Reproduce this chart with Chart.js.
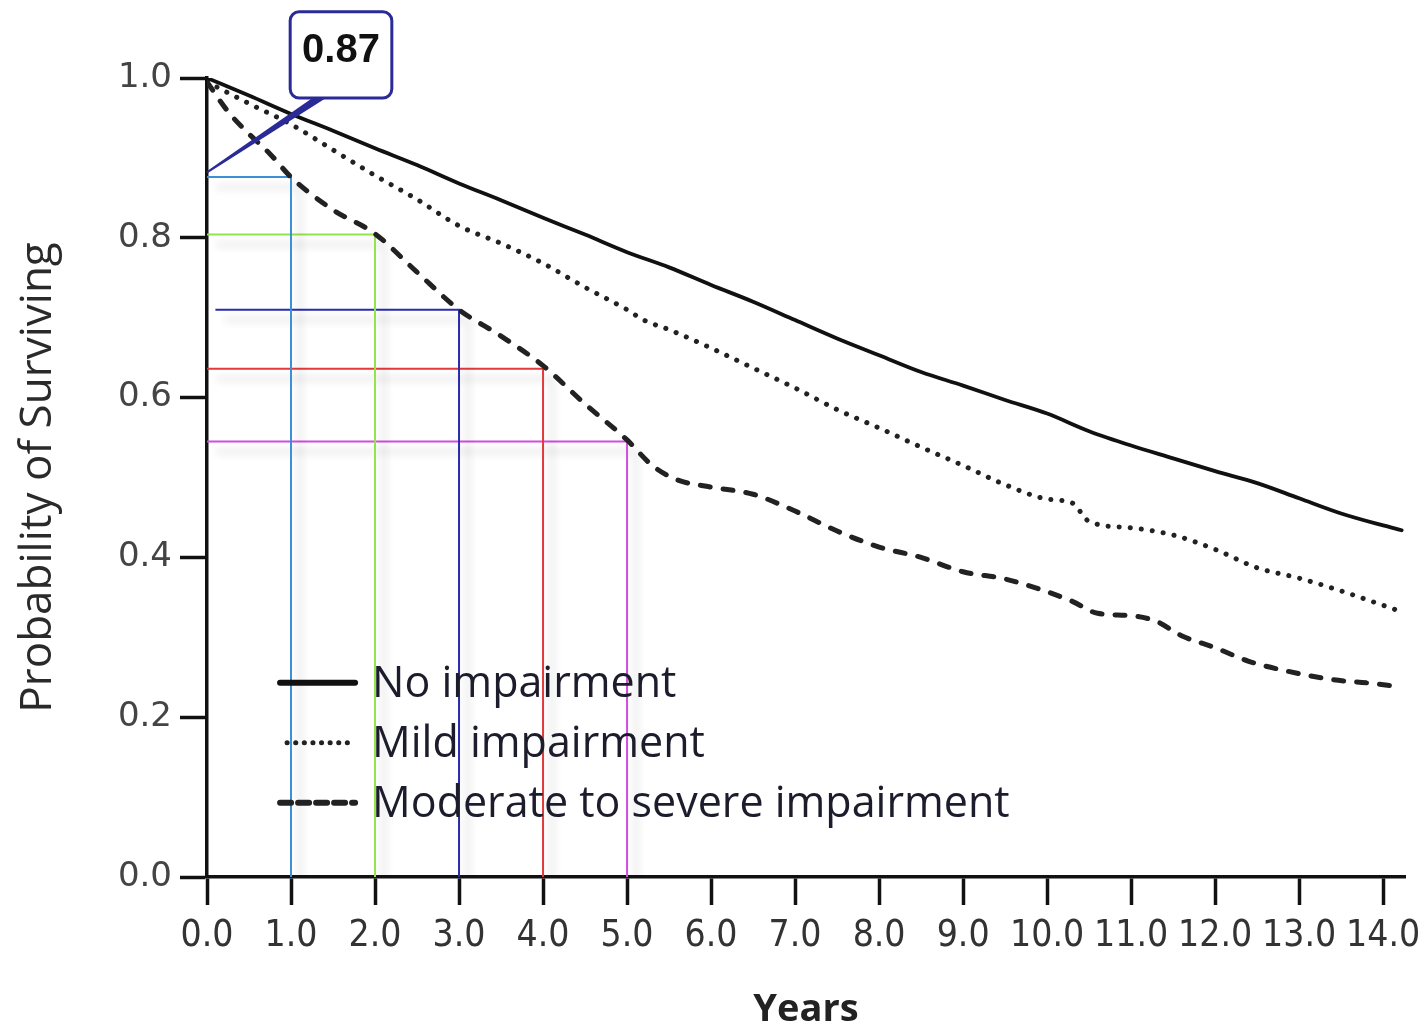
<!DOCTYPE html>
<html lang="en">
<head>
  <meta charset="UTF-8">
  <title>Probability of Surviving</title>
  <script src="https://cdn.jsdelivr.net/npm/chart.js"></script>
  <style>
    html, body { margin: 0; padding: 0; background: #fff; }
    #wrap { width: 1424px; height: 1033px; }
  </style>
</head>
<body>
  <div id="wrap"><canvas id="graph" width="1424" height="1033"></canvas></div>

  <script>
    // survival curves
    const noImpYears = [0, 0.5, 1, 1.5, 2, 2.5, 3, 3.5, 4, 4.5, 5, 5.5, 6, 6.5, 7, 7.5, 8, 8.5, 9, 9.5, 10, 10.5, 11, 11.5, 12, 12.5, 13, 13.5, 14, 14.22];
    const noImpSurv = [1.0, 0.978, 0.955, 0.934, 0.912, 0.891, 0.868, 0.847, 0.825, 0.804, 0.782, 0.763, 0.741, 0.72, 0.697, 0.674, 0.653, 0.632, 0.615, 0.597, 0.58, 0.558, 0.54, 0.524, 0.508, 0.493, 0.474, 0.455, 0.44, 0.434];

    const mildYears = [0, 0.5, 1, 1.5, 2, 2.5, 3, 3.5, 4, 4.5, 5, 5.2, 5.5, 6, 6.5, 7, 7.5, 8, 8.5, 9, 9.5, 10, 10.3, 10.5, 11, 11.5, 12, 12.5, 13, 13.5, 14, 14.22];
    const mildSurv = [0.995, 0.968, 0.942, 0.91, 0.878, 0.848, 0.815, 0.793, 0.768, 0.738, 0.71, 0.697, 0.685, 0.662, 0.637, 0.612, 0.585, 0.562, 0.538, 0.515, 0.491, 0.473, 0.468, 0.445, 0.437, 0.428, 0.41, 0.387, 0.374, 0.358, 0.34, 0.332];

    const modYears = [0, 0.25, 0.5, 0.75, 1, 1.5, 2, 2.5, 3, 3.5, 4, 4.5, 5, 5.3, 5.6, 6, 6.5, 7, 7.5, 8, 8.5, 9, 9.5, 10, 10.3, 10.6, 11, 11.3, 11.6, 12, 12.4, 12.8, 13.4, 13.8, 14.22];
    const modSurv = [0.995, 0.958, 0.93, 0.905, 0.876, 0.835, 0.805, 0.757, 0.71, 0.677, 0.64, 0.592, 0.547, 0.515, 0.497, 0.488, 0.479, 0.458, 0.433, 0.413, 0.4, 0.382, 0.373, 0.357, 0.345, 0.33, 0.327, 0.32, 0.302, 0.287, 0.27, 0.259, 0.247, 0.243, 0.238];

    // coloured read-off lines (year -> survival of the moderate group)
    const guideYears = [1, 2, 3, 4, 5];
    const guideValues = [0.876, 0.804, 0.71, 0.636, 0.545];
    const guideStarts = [0, 0, 0.1, 0, 0];
    const guideColors = ['#3d8fd6', '#93e44c', '#2a2ab0', '#e23a3a', '#d44be2'];

    const seriesNames = ['No impairment', 'Mild impairment', 'Moderate to severe impairment'];
    const xTickValues = [0, 1, 2, 3, 4, 5, 6, 7, 8, 9, 10, 11, 12, 13, 14];
    const yTickValues = [0, 0.2, 0.4, 0.6, 0.8, 1.0];
    const calloutText = '0.87';

    function toPoints(xs, ys) {
      return xs.map((x, i) => ({ x: x, y: ys[i] }));
    }

    const datasets = [
      {
        label: seriesNames[0],
        data: toPoints(noImpYears, noImpSurv),
        borderColor: '#111',
        borderWidth: 3.8,
        borderDash: [],
        borderCapStyle: 'round',
        legendWidth: 6
      },
      {
        label: seriesNames[1],
        data: toPoints(mildYears, mildSurv),
        borderColor: '#222',
        borderWidth: 5,
        borderDash: [0.1, 11],
        borderCapStyle: 'round',
        legendWidth: 5
      },
      {
        label: seriesNames[2],
        data: toPoints(modYears, modSurv),
        borderColor: '#222',
        borderWidth: 5,
        borderDash: [10, 13],
        borderCapStyle: 'round',
        legendWidth: 6
      }
    ];

    guideYears.forEach((yr, i) => {
      datasets.push({
        label: 'guide' + i,
        data: [
          { x: guideStarts[i], y: guideValues[i] },
          { x: yr, y: guideValues[i] },
          { x: yr, y: 0 }
        ],
        borderColor: guideColors[i],
        borderWidth: 2,
        tension: 0,
        cubicInterpolationMode: 'default',
        shadow: true
      });
    });

    // soft grey shadow under the coloured guide lines
    const guideShadow = {
      id: 'guideShadow',
      beforeDatasetDraw(chart, args) {
        const ds = chart.data.datasets[args.index];
        if (!ds.shadow) return;
        const ctx = chart.ctx;
        ctx.save();
        ctx.shadowColor = 'rgba(0,0,0,0.22)';
        ctx.shadowBlur = 9;
        ctx.shadowOffsetX = 9;
        ctx.shadowOffsetY = 10;
      },
      afterDatasetDraw(chart, args) {
        const ds = chart.data.datasets[args.index];
        if (ds.shadow) chart.ctx.restore();
      }
    };

    // legend inside the plot + the "0.87" callout
    const extras = {
      id: 'extras',
      afterDatasetsDraw(chart) {
        const ctx = chart.ctx;
        const xs = chart.scales.x, ys = chart.scales.y;

        // legend
        const lx = xs.getPixelForValue(0.87);
        const ly = ys.getPixelForValue(0.243);
        ctx.save();
        for (let i = 0; i < 3; i++) {
          const ds = chart.data.datasets[i];
          const y = ly + i * 60;
          ctx.beginPath();
          ctx.strokeStyle = ds.borderColor;
          ctx.lineWidth = ds.legendWidth;
          ctx.lineCap = ds.borderCapStyle;
          ctx.setLineDash(i === 1 ? [0.1, 8.5] : (i === 2 ? [11, 7] : []));
          const pad = i === 1 ? 7 : 0;
          ctx.moveTo(lx + pad, y);
          ctx.lineTo(lx + 75 - pad, y);
          ctx.stroke();
          ctx.setLineDash([]);
          ctx.fillStyle = '#1c1c2c';
          ctx.font = '43px "Open Sans"';
          ctx.textBaseline = 'middle';
          ctx.textAlign = 'left';
          ctx.fillText(ds.label, lx + 92, y + 2);
        }
        ctx.restore();

        // callout box
        const bx0 = xs.getPixelForValue(0.99), bx1 = xs.getPixelForValue(2.2);
        const by0 = ys.getPixelForValue(1.083), by1 = ys.getPixelForValue(0.975);
        const tipX = xs.getPixelForValue(0), tipY = ys.getPixelForValue(0.882);
        ctx.save();
        ctx.strokeStyle = '#2b2b98';
        ctx.fillStyle = '#2b2b98';
        ctx.lineWidth = 2;
        ctx.beginPath();
        ctx.moveTo(tipX, tipY);
        ctx.lineTo(bx0 + 24, by1);
        ctx.lineTo(bx0 + 34, by1);
        ctx.closePath();
        ctx.fill();
        ctx.stroke();
        ctx.lineWidth = 3;
        ctx.beginPath();
        ctx.roundRect(bx0, by0, bx1 - bx0, by1 - by0, 9);
        ctx.fillStyle = '#fff';
        ctx.fill();
        ctx.stroke();
        ctx.fillStyle = '#111';
        ctx.font = 'bold 40px "Liberation Sans", Arial';
        ctx.textAlign = 'center';
        ctx.textBaseline = 'middle';
        ctx.fillText(calloutText, (bx0 + bx1) / 2, (by0 + by1) / 2 - 4);
        ctx.restore();
      }
    };

    const ctx = document.getElementById('graph').getContext('2d');
    new Chart(ctx, {
      type: 'line',
      data: { datasets: datasets },
      plugins: [guideShadow, extras],
      options: {
        responsive: false,
        animation: false,
        layout: { padding: { top: 78, right: 19, left: 0, bottom: 0 } },
        elements: {
          point: { radius: 0 },
          line: { tension: 0.3, cubicInterpolationMode: 'monotone', fill: false }
        },
        scales: {
          x: {
            type: 'linear',
            min: 0,
            max: 14.26,
            afterBuildTicks: s => { s.ticks = xTickValues.map(v => ({ value: v })); },
            afterFit: s => { s.height = 156; s.paddingLeft = 0; s.paddingRight = 0; },
            ticks: {
              callback: v => v.toFixed(1),
              color: '#333',
              padding: 9,
              maxRotation: 0,
              autoSkip: false,
              font: { family: '"Liberation Sans Narrow", "DejaVu Sans Condensed", "Liberation Sans"', size: 37 }
            },
            grid: { drawOnChartArea: false, drawTicks: true, tickLength: 28, tickColor: '#111', tickWidth: 3.5 },
            border: { display: true, color: '#111', width: 3.5 },
            title: {
              display: true,
              text: 'Years',
              color: '#222',
              padding: { top: 0, bottom: 0 },
              font: { family: '"Open Sans"', size: 38, weight: 'bold' }
            }
          },
          y: {
            type: 'linear',
            min: 0,
            max: 1.0,
            afterBuildTicks: s => { s.ticks = yTickValues.map(v => ({ value: v })); },
            afterFit: s => { s.width = 207; s.paddingTop = 0; s.paddingBottom = 0; },
            ticks: {
              callback: v => v.toFixed(1),
              color: '#444',
              padding: 8,
              font: { family: '"DejaVu Sans"', size: 34 }
            },
            grid: { drawOnChartArea: false, drawTicks: true, tickLength: 27, tickColor: '#111', tickWidth: 3.5 },
            border: { display: true, color: '#111', width: 3.5 },
            title: {
              display: true,
              text: 'Probability of Surviving',
              color: '#2a2a2a',
              padding: { top: 12, bottom: 0 },
              font: { family: '"Open Sans"', size: 44, weight: '500' }
            }
          }
        },
        plugins: {
          legend: { display: false },
          tooltip: { enabled: false }
        }
      }
    });
  </script>
</body>
</html>
